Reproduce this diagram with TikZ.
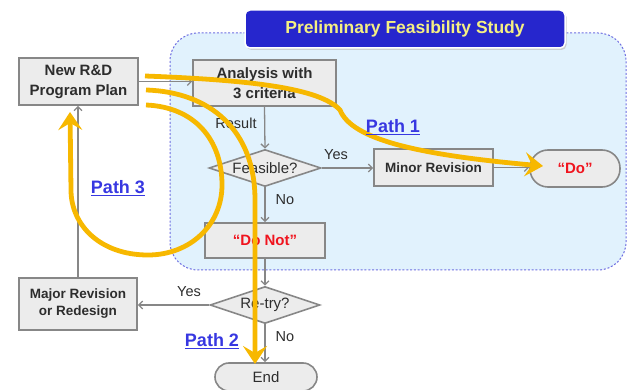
\documentclass[tikz,border=0pt]{standalone}
\usepackage{fontspec}
\setmainfont{Liberation Sans}
\usetikzlibrary{shapes.geometric,arrows.meta,calc,shadows}
\definecolor{boxfill}{RGB}{236,236,236}
\definecolor{boxdraw}{RGB}{135,135,135}
\definecolor{txt}{RGB}{45,45,45}
\definecolor{regfill}{RGB}{225,242,253}
\definecolor{regdraw}{RGB}{110,110,225}
\definecolor{titlefill}{RGB}{38,38,205}
\definecolor{titletxt}{RGB}{245,240,130}
\definecolor{pathyel}{RGB}{247,184,0}
\definecolor{pathblue}{RGB}{55,55,225}
\definecolor{dored}{RGB}{240,20,30}
\tikzset{
  box/.style={draw=boxdraw, fill=boxfill, line width=1.6pt, inner sep=0pt, align=center, text=txt,
    font=\bfseries\fontsize{15}{20}\selectfont},
  smallbox/.style={box, font=\bfseries\fontsize{13.5}{17}\selectfont},
  dia/.style={diamond, aspect=3, draw=boxdraw, fill=boxfill, line width=1.6pt, inner sep=0pt, text=txt,
    font=\fontsize{15}{17}\selectfont},
  term/.style={draw=boxdraw, fill=boxfill, line width=1.6pt, inner sep=0pt, align=center, text=txt},
  flow/.style={draw=boxdraw, line width=1.3pt, -{Straight Barb[length=4pt,width=8pt]}},
  yel/.style={draw=pathyel, line width=4.8pt, -{Stealth[length=18pt,width=24pt,inset=7pt]}},
  lbl/.style={text=txt, font=\fontsize{14.5}{17}\selectfont, inner sep=0pt},
  pathlbl/.style={text=pathblue, font=\bfseries\fontsize{18}{20}\selectfont, inner sep=0pt},
  region/.style={draw=regdraw, fill=regfill, line width=1pt, dash pattern=on 2pt off 1.8pt, rounded corners=28pt},
  ttlbox/.style={fill=titlefill, draw=white, line width=1.5pt, rounded corners=5pt, text=titletxt,
    font=\bfseries\fontsize{17.5}{20}\selectfont, minimum width=320pt, minimum height=38pt, inner sep=0pt,
    drop shadow={shadow xshift=1.5pt, shadow yshift=-2pt, fill=gray!45, opacity=0.8}}
}
\begin{document}
\begin{tikzpicture}[x=1pt,y=-1pt]
\useasboundingbox (0,0) rectangle (627,390);
% region
\draw[region] (170,33) rectangle (626,270);
\node[ttlbox] (ttl) at (405,29) {Preliminary Feasibility Study};
% nodes
\node[box, minimum width=119pt, minimum height=47pt] (plan) at (78.5,81.5) {New R\&D\\Program Plan};
\node[box, minimum width=143pt, minimum height=46pt] (anal) at (264.5,83) {Analysis with\\3 criteria};
\node[dia, minimum width=112pt, minimum height=37pt] (feas) at (265,168) {Feasible?};
\node[smallbox, minimum width=119pt, minimum height=37pt] (minor) at (433.5,167.5) {Minor Revision};
\node[term, rounded corners=18pt, minimum width=90pt, minimum height=37pt, text=dored,
  font=\bfseries\fontsize{15}{17}\selectfont] (do) at (575,168.5) {“Do”};
\node[box, minimum width=120pt, minimum height=35pt, text=dored] (donot) at (265,240.5) {“Do Not”};
\node[dia, minimum width=110pt, minimum height=37pt] (retry) at (265,305) {Re-try?};
\node[smallbox, minimum width=118pt, minimum height=52pt] (major) at (78,304) {Major Revision\\or Redesign};
\node[term, rounded corners=14pt, minimum width=102pt, minimum height=28pt,
  font=\fontsize{15}{17}\selectfont] (end) at (266,377) {End};
% labels
\node[lbl] (lres) at (236,123) {Result};
\node[lbl] (lyes1) at (336,155) {Yes};
\node[lbl] (lno1) at (285,200) {No};
\node[lbl] (lyes2) at (189,292) {Yes};
\node[lbl] (lno2) at (285,337) {No};
% flow arrows
\draw[flow] (plan.east) -- (plan.east -| anal.west);
\draw[flow] (anal.south) -- (feas.north);
\draw[flow] (feas.east) -- (feas.east -| minor.west);
\draw[flow] (minor.east) -- (minor.east -| do.west);
\draw[flow] (feas.south) -- (donot.north);
\draw[flow] (donot.south) -- (retry.north);
\draw[flow] (retry.west) -- (retry.west -| major.east);
\draw[flow] (retry.south) -- (retry.south |- end.north);
\draw[flow] (major.north) -- (major.north |- plan.south);
% yellow paths
\coordinate (p1s) at (145,76);
\coordinate (p1e) at (543,166);
\coordinate (p2s) at (146,90);
\coordinate (p2e) at (255,364);
\coordinate (p3s) at (146,105);
\coordinate (p3e) at (70,112);
\draw[yel] (p1s) .. controls (250,80) and (320,88) .. (340,110) .. controls (352,140) and (420,155) .. (p1e);
\draw[yel] (p2s) .. controls (210,92) and (255,130) .. (255,200) -- (p2e);
\draw[yel] (p3s) .. controls (195,107) and (222,140) .. (222,185) .. controls (222,225) and (190,255) .. (148,255)
  .. controls (100,255) and (71,225) .. (71,190) -- (p3e);
% path labels
\node[pathlbl] (l1) at (393,127) {\underline{Path 1}};
\node[pathlbl] (l3) at (118,188) {\underline{Path 3}};
\node[pathlbl] (l2) at (212,341) {\underline{Path 2}};
\end{tikzpicture}
\end{document}
